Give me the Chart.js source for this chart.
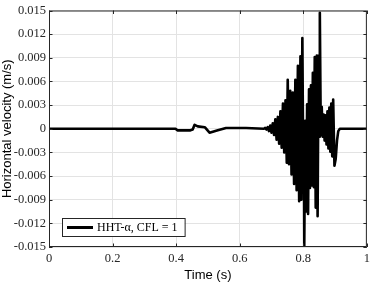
<!DOCTYPE html>
<html>
<head>
<meta charset="utf-8">
<script src="https://cdn.jsdelivr.net/npm/chart.js@4"></script>
<style>
  html, body { margin: 0; padding: 0; background: #fff; }
  #wrap { width: 374px; height: 283px; }
</style>
</head>
<body>
<div id="wrap"><canvas id="chart"></canvas></div>
<script>
// time samples (s) and horizontal velocity (m/s)
const timeS = [
  0, 0.398, 0.404, 0.445, 0.452, 0.458, 0.468, 0.49, 0.505, 0.531, 0.557, 0.62, 0.676,
  0.680, 0.684, 0.688, 0.692, 0.696, 0.700, 0.704, 0.708, 0.712, 0.716, 0.720, 0.724,
  0.728, 0.732, 0.736, 0.740, 0.744, 0.748, 0.751, 0.755, 0.759, 0.763, 0.767, 0.771,
  0.775, 0.779, 0.783, 0.787, 0.791, 0.794, 0.797, 0.800, 0.8015, 0.803, 0.806, 0.809,
  0.812, 0.815, 0.818, 0.821, 0.824, 0.827, 0.830, 0.833, 0.836, 0.839, 0.8425, 0.845,
  0.848, 0.850, 0.852, 0.855, 0.858, 0.861, 0.864, 0.867, 0.870, 0.873, 0.876, 0.879,
  0.882, 0.885, 0.888, 0.891, 0.894, 0.898, 0.902, 0.906, 0.910, 0.915, 1
];
const velocity = [
  0, 0, -0.0002, -0.0002, -0.0001, 0.0005, 0.0003, 0.0002, -0.0005, -0.0002, 0.0001, 0.0001, 0,
  0.0001, -0.0001, 0.0002, -0.0003, 0.0004, -0.0005, 0.0007, -0.0008, 0.0012, -0.0014, 0.0015, -0.0019,
  0.0022, -0.0024, 0.0032, -0.0030, 0.0036, -0.0043, 0.0062, -0.0045, 0.0048, -0.0058, 0.0046, -0.0070,
  0.0062, -0.0078, 0.0080, -0.0092, 0.0092, -0.0090, 0.0115, -0.0060, 0.0008, -0.0150, 0.0010, -0.0105,
  0.0031, -0.0108, 0.0050, -0.0075, 0.0055, -0.0072, 0.0071, -0.0074, 0.0091, -0.0100, 0.0093, -0.0111,
  0.0093, -0.0010, 0.0147, -0.0008, 0.0028, -0.0010, 0.0018, -0.0015, 0.0017, -0.0020, 0.0022, -0.0025,
  0.0027, -0.0029, 0.0032, -0.0035, 0.0037, -0.0047, -0.0038, -0.0015, -0.0003, 0, 0
];
const seriesLabel = 'HHT-\u03b1, CFL = 1';
const xTicks = [0, 0.2, 0.4, 0.6, 0.8, 1];
const yTicks = [-0.015, -0.012, -0.009, -0.006, -0.003, 0, 0.003, 0.006, 0.009, 0.012, 0.015];

const points = timeS.map((t, i) => ({ x: t, y: velocity[i] }));
const axisColor = '#262626';
const serif = 'Liberation Serif';

// box around the axes with inward ticks, like the original figure
const boxPlugin = {
  id: 'boxTicks',
  afterDatasetsDraw(chart) {
    const { ctx, chartArea: a, scales } = chart;
    ctx.save();
    ctx.strokeStyle = axisColor;
    ctx.lineWidth = 1;
    ctx.beginPath();
    const len = 3.5;
    xTicks.forEach(v => {
      const px = Math.round(scales.x.getPixelForValue(v)) + 0.5;
      ctx.moveTo(px, a.bottom); ctx.lineTo(px, a.bottom - len);
      ctx.moveTo(px, a.top); ctx.lineTo(px, a.top + len);
    });
    yTicks.forEach(v => {
      const py = Math.round(scales.y.getPixelForValue(v)) + 0.5;
      ctx.moveTo(a.left, py); ctx.lineTo(a.left + len, py);
      ctx.moveTo(a.right, py); ctx.lineTo(a.right - len, py);
    });
    ctx.stroke();
    ctx.strokeRect(a.left + 0.5, a.top + 0.5, a.right - a.left - 1, a.bottom - a.top - 1);

    // legend box in lower-left corner
    ctx.font = '12px "' + serif + '"';
    const tw = ctx.measureText(seriesLabel).width;
    const bx = a.left + 13, by = a.bottom - 29, bh = 18;
    const bw = 5 + 26 + 4 + tw + 7;
    ctx.fillStyle = '#fff';
    ctx.fillRect(bx, by, bw, bh);
    ctx.strokeStyle = axisColor;
    ctx.strokeRect(bx + 0.5, by + 0.5, bw, bh);
    ctx.strokeStyle = '#000';
    ctx.lineWidth = 3;
    ctx.beginPath();
    ctx.moveTo(bx + 5, by + bh / 2 + 0.5);
    ctx.lineTo(bx + 31, by + bh / 2 + 0.5);
    ctx.stroke();
    ctx.fillStyle = '#000';
    ctx.textBaseline = 'middle';
    ctx.fillText(seriesLabel, bx + 35, by + bh / 2 + 1);
    ctx.restore();
  }
};

new Chart(document.getElementById('chart'), {
  type: 'line',
  data: {
    datasets: [{
      label: seriesLabel,
      data: points,
      borderColor: '#000',
      borderWidth: 2.6,
      borderJoinStyle: 'round',
      pointRadius: 0,
      tension: 0,
      fill: false
    }]
  },
  options: {
    responsive: true,
    maintainAspectRatio: false,
    animation: false,
    layout: { padding: { top: 6, right: 3, left: 0, bottom: 0 } },
    plugins: {
      legend: { display: false },
      tooltip: { enabled: false }
    },
    scales: {
      x: {
        type: 'linear',
        min: 0, max: 1,
        afterFit(scale) { scale.height = 36; },
        afterBuildTicks(scale) { scale.ticks = xTicks.map(v => ({ value: v })); },
        grid: { color: '#e3e3e3', drawTicks: false },
        border: { display: false },
        ticks: {
          padding: 4,
          color: axisColor,
          font: { family: serif, size: 12.5 },
          maxRotation: 0,
          callback: v => String(+v.toFixed(1))
        },
        title: {
          display: true,
          text: 'Time (s)',
          color: '#000',
          font: { family: 'Liberation Sans', size: 13 },
          padding: 0
        }
      },
      y: {
        min: -0.015, max: 0.015,
        afterFit(scale) { scale.width = 49; },
        afterBuildTicks(scale) { scale.ticks = yTicks.map(v => ({ value: v })); },
        grid: { color: '#e3e3e3', drawTicks: false },
        border: { display: false },
        ticks: {
          padding: 3,
          color: axisColor,
          font: { family: serif, size: 12.5 },
          callback: v => Math.abs(v) < 1e-9 ? '0' : String(+v.toFixed(3))
        },
        title: {
          display: true,
          text: 'Horizontal velocity (m/s)',
          color: '#000',
          font: { family: 'Liberation Sans', size: 13 },
          padding: 0
        }
      }
    }
  },
  plugins: [boxPlugin]
});
</script>
</body>
</html>
